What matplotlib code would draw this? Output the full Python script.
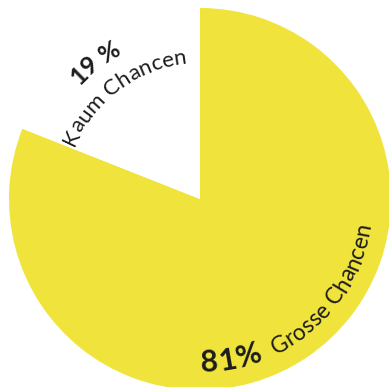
import numpy as np
import matplotlib
matplotlib.use("Agg")
import matplotlib.pyplot as plt
from matplotlib.font_manager import FontProperties, findfont, get_font

# Survey result: chances of success
shares = [81, 19]
categories = ["Grosse Chancen", "Kaum Chancen"]
pct_formats = ["{}%", "{} %"]
colors = ["#F0E43C", "#FFFFFF"]

W, H, DPI = 389, 387, 100
R_PX = 191.0            # pie radius in pixels
CX, CY = 200.0, 188.0   # pie centre in pixels (from bottom-left)

FAMILY = ["Lato", "DejaVu Sans"]
TEXT_COLOR = "#1c1c1c"

fig = plt.figure(figsize=(W / DPI, H / DPI), dpi=DPI)
ax = fig.add_axes([0, 0, 1, 1])

ax.pie(shares, colors=colors, startangle=90, counterclock=False, radius=1.0,
       wedgeprops=dict(linewidth=0, antialiased=True))
ax.set_xlim(-CX / R_PX, (W - CX) / R_PX)
ax.set_ylim(-CY / R_PX, (H - CY) / R_PX)
ax.set_aspect("auto")
ax.axis("off")


def char_advances(text, prop):
    font = get_font(findfont(prop))
    font.set_size(prop.get_size_in_points(), DPI)
    return [font.load_char(ord(ch)).linearHoriAdvance / 65536.0 for ch in text]


def arc_text(text, r_px, th0, th1, size, weight="normal"):
    """Write text along a circular arc around the pie centre.

    th0 -> th1 in degrees; counter-clockwise runs get their letter tops
    pointing at the centre, clockwise runs point them outwards.
    """
    prop = FontProperties(family=FAMILY, size=size, weight=weight)
    adv = char_advances(text, prop)
    ccw = th1 > th0
    length = abs(np.radians(th1 - th0)) * r_px
    natural = sum(adv)
    gap = (length - natural) / max(len(text) - 1, 1)
    pos = 0.0
    for i, (ch, a) in enumerate(zip(text, adv)):
        s = pos + a / 2.0 + i * gap
        pos += a
        th = np.radians(th0) + (1 if ccw else -1) * s / r_px
        x = r_px * np.cos(th) / R_PX
        y = r_px * np.sin(th) / R_PX
        rot = np.degrees(th) + (90 if ccw else -90)
        ax.text(x, y, ch, fontproperties=prop, color=TEXT_COLOR,
                ha="center", va="baseline", rotation=rot,
                rotation_mode="anchor")


big_pct = pct_formats[0].format(shares[0])
small_pct = pct_formats[1].format(shares[1])

# Large slice: label runs along the lower right rim
arc_text(big_pct, 173, -89.7, -68.3, 22, "bold")
arc_text(categories[0], 173, -64.0, -8.6, 16.5)

# Small slice: label sits inside the empty wedge
arc_text(small_pct, 165, 137.0, 118.0, 18, "bold")
arc_text(categories[1], 136, 157.4, 95.5, 16)

fig.savefig("out.png", dpi=DPI)
